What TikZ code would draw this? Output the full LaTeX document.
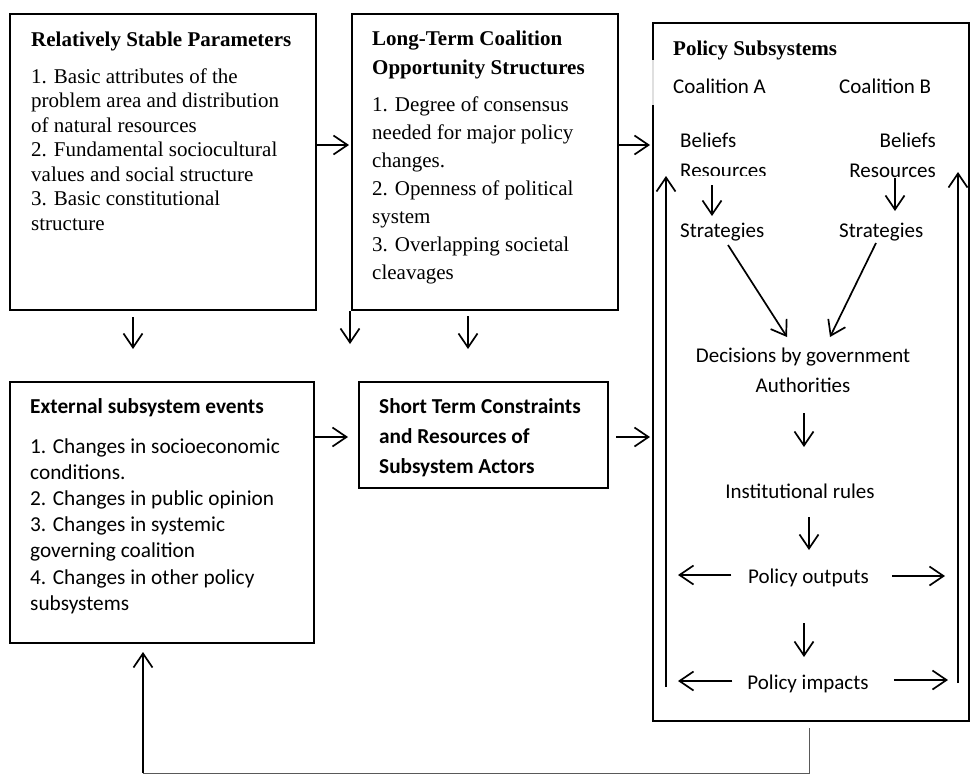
\documentclass[tikz,border=0pt]{standalone}
\usepackage{fontspec}
\setmainfont{Liberation Serif}
\newfontfamily\calib{Carlito}
\usetikzlibrary{arrows.meta,calc}
\newcommand\mylines[1]{\begin{tabular}[t]{@{}l@{}}#1\end{tabular}}
\begin{document}
\begin{tikzpicture}[x=1pt,y=-1pt,
  box/.style={draw, rectangle, inner sep=0pt, outer sep=0pt, line width=1.3pt},
  arr/.style={-{Straight Barb[length=14pt,width=19pt]}, line width=1.7pt},
  sertitle/.style={font=\fontsize{21}{29}\selectfont\bfseries, inner sep=0pt, anchor=base west},
  serbody/.style={font=\fontsize{21}{24.5}\selectfont, inner sep=0pt, anchor=base west},
  santitle/.style={font=\calib\fontsize{21.3}{30}\selectfont\bfseries, inner sep=0pt, anchor=base west},
  sanbody/.style={font=\calib\fontsize{21.3}{26.2}\selectfont, inner sep=0pt, anchor=base west},
  lbl/.style={font=\calib\fontsize{21}{25}\selectfont, inner sep=0pt}
]
\useasboundingbox (0,0) rectangle (970,774);

% boxes
\node[box, line width=2pt, anchor=north west, minimum width=306pt, minimum height=296pt] (b1) at (10,14) {};
\node[box, anchor=north west, minimum width=266pt, minimum height=296pt] (b2) at (352,14) {};
\node[box, line width=1.6pt, anchor=north west, minimum width=316pt, minimum height=698pt] (b3) at (653,23) {};
\node[box, anchor=north west, minimum width=304pt, minimum height=261pt] (b4) at (10,382) {};
\node[box, anchor=north west, minimum width=249pt, minimum height=106pt] (b5) at (359,382) {};
% light gap on left edge of policy box
\draw[line width=2pt, gray!25] (b3.north west |- 0,60) -- (b3.north west |- 0,105);

% box 1 text
\node[sertitle] (t1) at (31,46) {Relatively Stable Parameters};
\node[serbody] (x1) at (31,83) {\mylines{1. Basic attributes of the\\problem area and distribution\\of natural resources\\2. Fundamental sociocultural\\values and social structure\\3. Basic constitutional\\structure}};

% box 2 text
\node[sertitle] (t2) at (372,45) {\mylines{Long-Term Coalition\\Opportunity Structures}};
\node[serbody, font=\fontsize{21}{28}\selectfont] (x2) at (372,111) {\mylines{1. Degree of consensus\\needed for major policy\\changes.\\2. Openness of political\\system\\3. Overlapping societal\\cleavages}};

% box 4 text
\node[santitle] (t4) at (30,413) {External subsystem events};
\node[sanbody] (x4) at (30,453) {\mylines{1. Changes in socioeconomic\\conditions.\\2. Changes in public opinion\\3. Changes in systemic\\governing coalition\\4. Changes in other policy\\subsystems}};

% box 5 text
\node[santitle] (t5) at (379,413) {\mylines{Short Term Constraints\\and Resources of\\Subsystem Actors}};

% box 3 contents
\node[sertitle] (t3) at (673,55) {Policy Subsystems};
\node[lbl, anchor=base west] (coA) at (673,93) {Coalition A};
\node[lbl, anchor=base west] (coB) at (839,93) {Coalition B};
\node[lbl, anchor=base west] (belA) at (680,147) {Beliefs};
\node[lbl, anchor=base east] (belB) at (936,147) {Beliefs};
\begin{scope}
\clip (670,150) rectangle (790,175.5);
\node[lbl, anchor=base west] (resA) at (680,177) {Resources};
\end{scope}
\node[lbl, anchor=base east] (resB) at (936,177) {Resources};
\node[lbl, anchor=base west] (strA) at (680,237) {Strategies};
\node[lbl, anchor=base west] (strB) at (839,237) {Strategies};
\node[lbl, anchor=base] (dec) at (803,362) {Decisions by government};
\node[lbl, anchor=base] (auth) at (803,392) {Authorities};
\node[lbl, anchor=base] (inst) at (800,498) {Institutional rules};
\node[lbl, anchor=base] (outp) at (808.5,583) {Policy outputs};
\node[lbl, anchor=base] (imp) at (808,689) {Policy impacts};

% vertical feedback arrows inside box 3
\coordinate (upLb) at (666,687);
\coordinate (upLt) at (666,176);
\coordinate (upRb) at (958,683);
\coordinate (upRt) at (958,172);
\draw[arr] (upLb) -- (upLt);
\draw[arr] (upRb) -- (upRt);

% arrows inside box 3
\draw[arr] ([xshift=32pt,yshift=-8pt]resA.base west) -- ([xshift=32pt,yshift=21pt]strA.base west);
\draw[arr] ([xshift=-41pt,yshift=-1pt]resB.base east) -- ([xshift=56pt,yshift=26pt]strB.base west);
\draw[arr] ([xshift=48pt,yshift=-8pt]strA.base west) -- ([xshift=-16pt,yshift=25pt]dec.base);
\draw[arr] ([xshift=37pt,yshift=-6pt]strB.base west) -- ([xshift=27pt,yshift=25pt]dec.base);
\draw[arr] ([xshift=1pt,yshift=-21pt]auth.base) -- ([xshift=4pt,yshift=51pt]inst.base);
\draw[arr] ([xshift=9pt,yshift=-19pt]inst.base) -- ([xshift=0.5pt,yshift=33pt]outp.base);
\draw[arr] ([xshift=-4.5pt,yshift=-40pt]outp.base) -- ([xshift=-4pt,yshift=32pt]imp.base);
\draw[arr] ([xshift=-16.5pt,yshift=8pt]outp.base west) -- ($(upLb |- outp.base west)+(12,-8)$);
\draw[arr] ([xshift=23pt,yshift=7pt]outp.base east) -- ($(upRb |- outp.base east)+(-13,-7)$);
\draw[arr] ([xshift=-15pt,yshift=8pt]imp.base west) -- ($(upLb |- imp.base west)+(12,-8)$);
\draw[arr] ([xshift=25pt,yshift=9pt]imp.base east) -- ($(upRb |- imp.base east)+(-10,-9)$);

% arrows between boxes
\draw[arr] (b1.east |- 0,145) -- ($(b2.west |- 0,145)+(-3,0)$);
\draw[arr] (b2.east |- 0,145) -- ($(b3.west |- 0,145)+(-3,0)$);
\draw[arr] (b4.east |- 0,437) -- ($(b5.west |- 0,437)+(-11,0)$);
\draw[arr] ($(b5.east |- 0,437)+(8,0)$) -- ($(b3.west |- 0,437)+(-3,0)$);
\draw[arr] ($(b1.south -| 133,0)+(0,7)$) -- ($(b4.north -| 133,0)+(0,-33)$);
\draw[arr] ($(b1.south -| 350,0)+(0,1)$) -- ($(b5.north -| 350,0)+(0,-38)$);
\draw[arr] ($(b2.south -| 468,0)+(0,6)$) -- ($(b5.north -| 468,0)+(0,-33)$);

% feedback loop
\coordinate (fbc) at (143,773);
\draw[line width=1pt, gray!70!black] ($(b3.south)+(-2,7)$) |- (fbc);
\draw[arr] (fbc) -- ($(b4.south -| fbc)+(0,9)$);
\end{tikzpicture}
\end{document}
